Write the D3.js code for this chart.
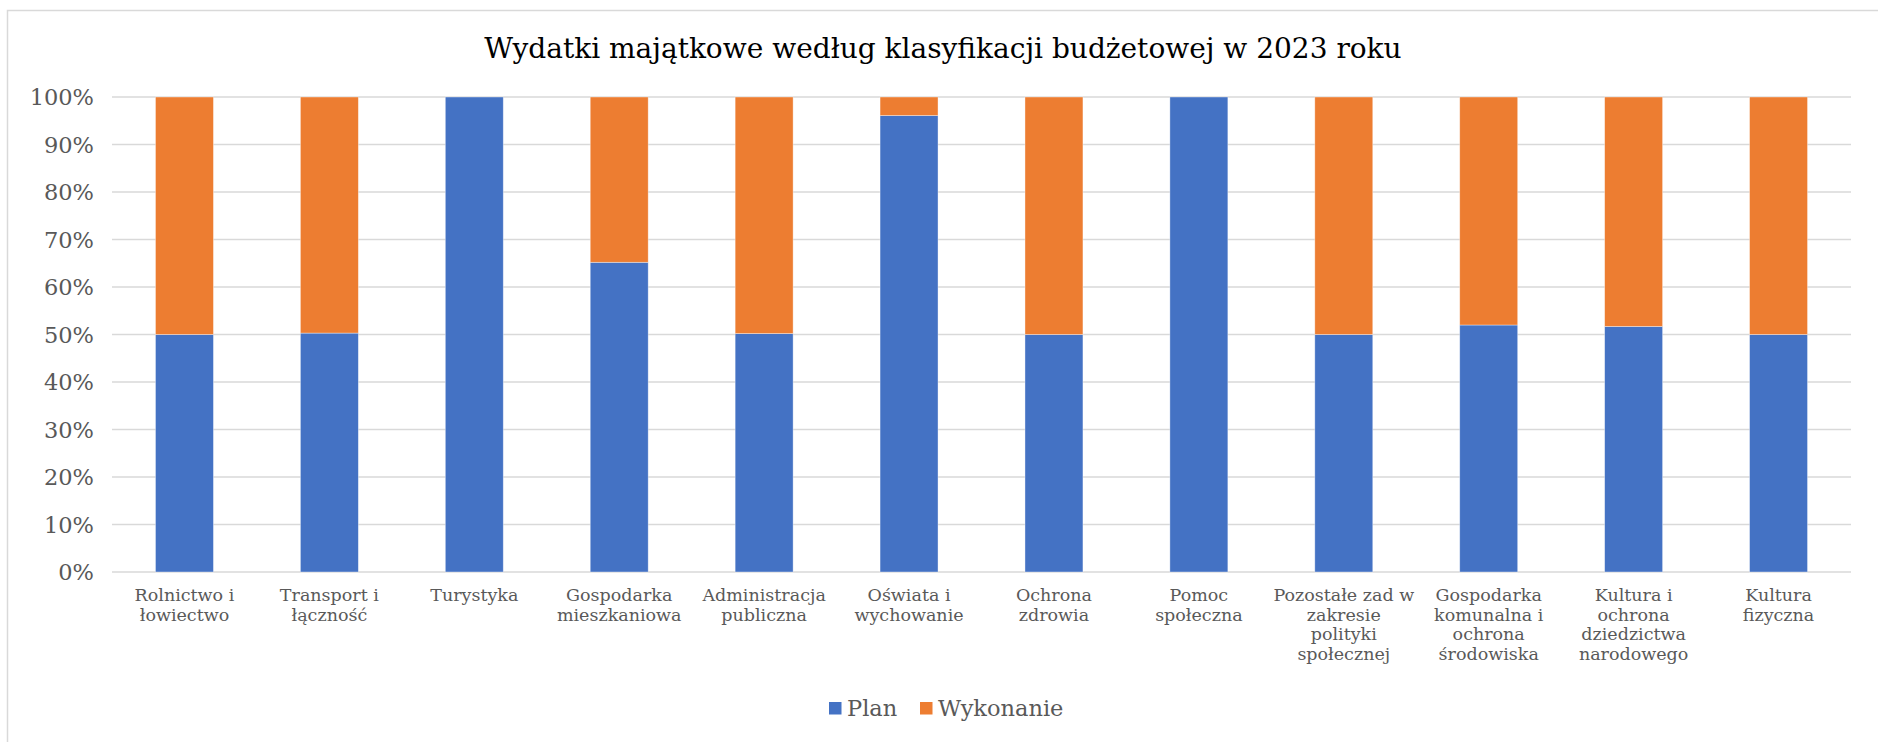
<!DOCTYPE html>
<html>
<head>
<meta charset="utf-8">
<script src="https://cdn.jsdelivr.net/npm/d3@7"></script>
<style>
  body { margin: 0; background: #fff; }
  text { font-family: "DejaVu Serif", serif; }
</style>
</head>
<body>
<svg width="1878" height="742"></svg>
<script>
// category labels, line breaks as in the chart
const categories = [
  "Rolnictwo i\nłowiectwo",
  "Transport i\nłączność",
  "Turystyka",
  "Gospodarka\nmieszkaniowa",
  "Administracja\npubliczna",
  "Oświata i\nwychowanie",
  "Ochrona\nzdrowia",
  "Pomoc\nspołeczna",
  "Pozostałe zad w\nzakresie\npolityki\nspołecznej",
  "Gospodarka\nkomunalna i\nochrona\nśrodowiska",
  "Kultura i\nochrona\ndziedzictwa\nnarodowego",
  "Kultura\nfizyczna"
];
// shares in percent (100% stacked)
const plan       = [50.0, 50.3, 100.0, 65.2, 50.2, 96.1, 50.0, 100.0, 50.0, 52.0, 51.7, 50.0];
const wykonanie  = [50.0, 49.7,   0.0, 34.8, 49.8,  3.9, 50.0,   0.0, 50.0, 48.0, 48.3, 50.0];
const seriesNames = ["Plan", "Wykonanie"];
const colors = ["#4472c4", "#ed7d31"];
const yTicks = [0, 10, 20, 30, 40, 50, 60, 70, 80, 90, 100];

const svg = d3.select("svg"),
      width = +svg.attr("width"),
      height = +svg.attr("height");

// chart frame
svg.append("rect")
    .attr("x", 7.5).attr("y", 10.5)
    .attr("width", width + 20).attr("height", height + 20)
    .attr("fill", "none").attr("stroke", "#d9d9d9").attr("stroke-width", 1.5);

const plot = { left: 112, right: 1851, top: 97, bottom: 572 };

const x = d3.scaleBand()
    .domain(categories)
    .range([plot.left, plot.right])
    .paddingInner(0.6).paddingOuter(0.3);

const y = d3.scaleLinear()
    .domain([0, 100])
    .range([plot.bottom, plot.top]);

// gridlines
svg.append("g")
    .selectAll("line")
    .data(yTicks)
    .enter().append("line")
    .attr("x1", plot.left).attr("x2", plot.right)
    .attr("y1", d => y(d)).attr("y2", d => y(d))
    .attr("stroke", "#d9d9d9").attr("stroke-width", 1.5);

// y labels
svg.append("g")
    .selectAll("text")
    .data(yTicks)
    .enter().append("text")
    .attr("x", 94)
    .attr("y", d => y(d))
    .attr("dy", "0.36em")
    .attr("text-anchor", "end")
    .attr("font-size", 22.5)
    .attr("fill", "#595959")
    .text(d => d + "%");

// stacked bars
const rows = categories.map((c, i) => ({ cat: c, Plan: plan[i], Wykonanie: wykonanie[i] }));
const stack = d3.stack().keys(seriesNames)(rows);

svg.append("g")
    .selectAll("g")
    .data(stack)
    .enter().append("g")
    .attr("fill", (d, i) => colors[i])
    .selectAll("rect")
    .data(d => d)
    .enter().append("rect")
    .attr("x", d => x(d.data.cat))
    .attr("width", x.bandwidth())
    .attr("y", d => y(d[1]))
    .attr("height", d => y(d[0]) - y(d[1]))
    .attr("stroke", "#fff").attr("stroke-opacity", 0.5).attr("stroke-width", 0.75);

// x labels, one tspan per line
svg.append("g")
    .selectAll("text")
    .data(categories)
    .enter().append("text")
    .attr("text-anchor", "middle")
    .attr("font-size", 17.5)
    .attr("fill", "#595959")
    .attr("y", 601)
    .each(function (d) {
        const cx = x(d) + x.bandwidth() / 2;
        d3.select(this).selectAll("tspan")
            .data(d.split("\n"))
            .enter().append("tspan")
            .attr("x", cx)
            .attr("dy", (l, i) => i === 0 ? 0 : 19.5)
            .text(l => l);
    });

// title
svg.append("text")
    .attr("x", 943)
    .attr("y", 58)
    .attr("text-anchor", "middle")
    .attr("font-size", 28)
    .attr("fill", "#000")
    .text("Wydatki majątkowe według klasyfikacji budżetowej w 2023 roku");

// legend
const legendPos = [829, 920];
const legend = svg.append("g")
    .selectAll("g")
    .data(seriesNames)
    .enter().append("g")
    .attr("transform", (d, i) => `translate(${legendPos[i]},702)`);

legend.append("rect")
    .attr("width", 12.5).attr("height", 12.5)
    .attr("fill", (d, i) => colors[i]);

legend.append("text")
    .attr("x", 18)
    .attr("y", 14)
    .attr("font-size", 22.5)
    .attr("fill", "#595959")
    .text(d => d);
</script>
</body>
</html>
